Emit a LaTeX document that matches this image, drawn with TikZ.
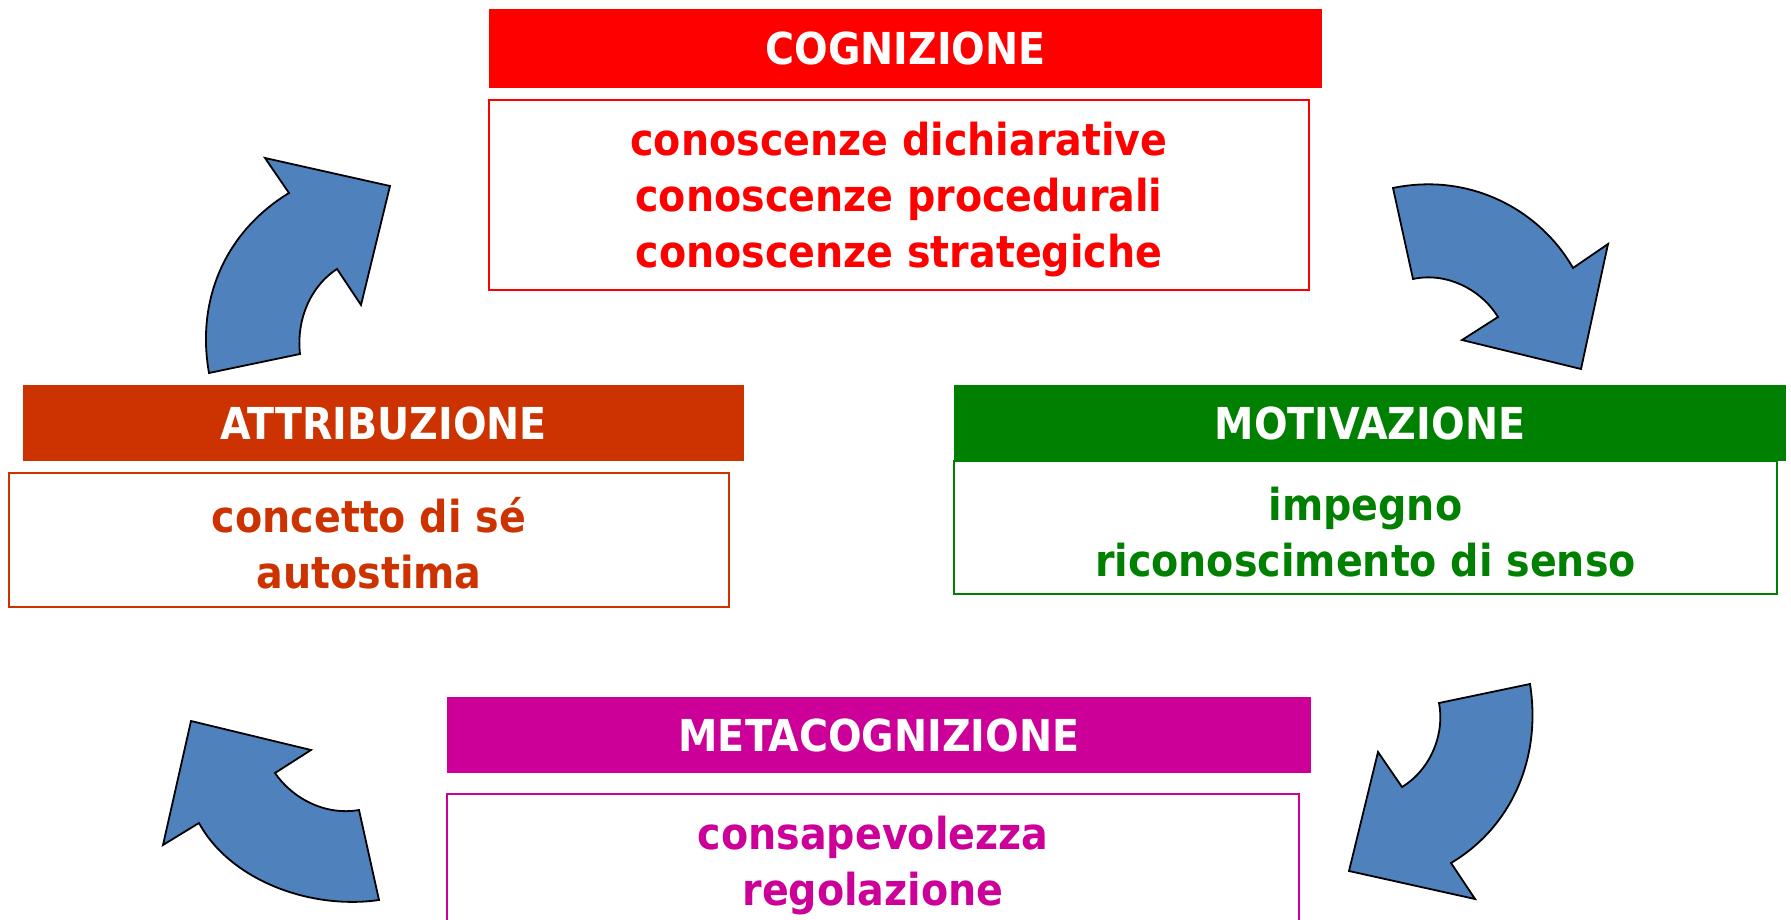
\documentclass[tikz,border=0pt]{standalone}
\usepackage{fontspec}
\setmainfont{DejaVu Sans Condensed}
\definecolor{cred}{RGB}{255,0,0}
\definecolor{corange}{RGB}{204,51,0}
\definecolor{cgreen}{RGB}{0,128,0}
\definecolor{cmag}{RGB}{204,0,153}
\definecolor{arrowblue}{RGB}{79,129,189}
\newcommand{\topstrut}{\rule{0pt}{42pt}}
\tikzset{
  hdr/.style={fill=#1, draw=none, inner sep=0pt, text=white, font=\bfseries\fontsize{44}{56}\selectfont},
  bodybox/.style={draw=#1, line width=1.5pt, fill=white, text=#1, align=center, inner sep=0pt, font=\bfseries\fontsize{44}{56}\selectfont},
  curvedarrow/.style={fill=arrowblue, draw=black, line width=1.8pt, line join=miter}
}
\begin{document}
\begin{tikzpicture}[x=1pt,y=-1pt]
\useasboundingbox (0,0) rectangle (1791,920);
% boxes
\node[bodybox=cred, minimum width=820pt, minimum height=190pt] (cogb) at (899,195)
  {\topstrut conoscenze dichiarative\\conoscenze procedurali\\conoscenze strategiche};
\node[hdr=cred, minimum width=833pt, minimum height=79pt] (cogh) at (905.5,48.5) {COGNIZIONE};
\node[bodybox=corange, minimum width=720pt, minimum height=134pt] (attb) at (369,540)
  {\topstrut concetto di sé\\autostima};
\node[hdr=corange, minimum width=721pt, minimum height=76pt] (atth) at (383.5,423) {ATTRIBUZIONE};
\node[bodybox=cgreen, minimum width=823pt, minimum height=133pt] (motb) at (1365.5,527.5)
  {\topstrut impegno\\riconoscimento di senso};
\node[hdr=cgreen, minimum width=832pt, minimum height=76pt] (moth) at (1370,423) {MOTIVAZIONE};
\node[bodybox=cmag, minimum width=852pt, minimum height=134pt] (metb) at (873,861)
  {\topstrut consapevolezza\\regolazione};
\node[hdr=cmag, minimum width=864pt, minimum height=76pt] (meth) at (879,735) {METACOGNIZIONE};
% arrows
\draw[curvedarrow] (209,373) -- (300,354) .. controls (296,318) and (312,285) .. (337,269)
  -- (361,305) -- (390,186) -- (265,158) -- (289,193)
  .. controls (225,232) and (196,300) .. (209,373) -- cycle;
\draw[curvedarrow] (1393,188) .. controls (1470,172) and (1540,210) .. (1573,268)
  -- (1608,244) -- (1581,369) -- (1462,340) -- (1498,317)
  .. controls (1480,288) and (1445,272) .. (1413,279) -- cycle;
\draw[curvedarrow] (1530,684) -- (1439,703) .. controls (1445,735) and (1430,770) .. (1402,787)
  -- (1378,752) -- (1349,871) -- (1475,899) -- (1451,863)
  .. controls (1510,828) and (1542,760) .. (1530,684) -- cycle;
\draw[curvedarrow] (191,721) -- (311,750) -- (275,773) .. controls (292,798) and (325,816) .. (359,810)
  -- (379,900) .. controls (310,910) and (230,880) .. (199,823) -- (163,845) -- cycle;
\end{tikzpicture}
\end{document}
